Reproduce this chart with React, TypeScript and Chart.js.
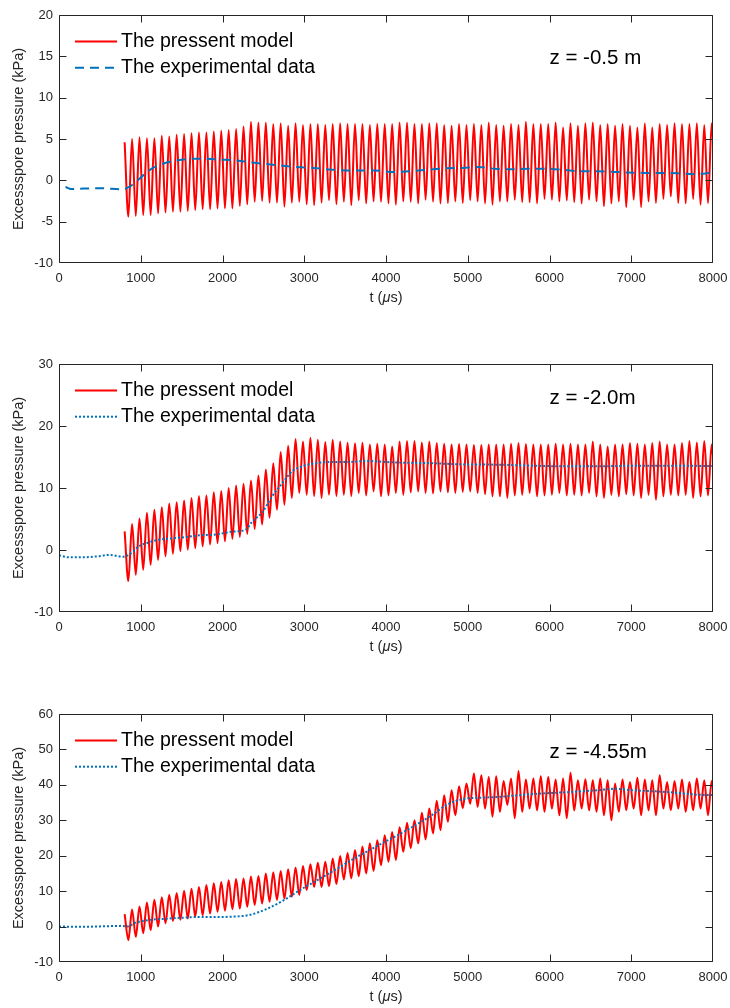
import { useEffect, useRef } from "react";
import { Chart, registerables } from "chart.js";

Chart.register(...registerables);

const FONT = "'Liberation Sans', Arial, Helvetica, sans-serif";
const AXIS_COLOR = "#262626";
const MODEL_COLOR = "#ff0000";
const EXP_COLOR = "#0072bd";

const MODEL_LABEL = "The pressent model";
const EXP_LABEL = "The experimental data";
const Y_TITLE = "Excessspore pressure (kPa)";

// Time axis (µs)
const timeMin = 0;
const timeMax = 8000;
const timeStep = 1000;

// The model output oscillates from its onset; extremes alternate peak / trough
const modelOnset = 803; // µs
const modelHalfPeriod = 45.45; // µs

// ---------- z = -0.5 m ----------
const peaksZ05 = [
  4.6, 5.0, 5.2, 5.1, 5.1, 5.4, 5.3, 5.5, 5.6, 5.7, 5.8, 5.8, 5.9, 6.0, 6.1, 6.2, 6.5, 7.1, 7.0, 7.0,
  6.8, 6.9, 6.6, 6.9, 6.7, 6.8, 6.8, 6.7, 6.8, 6.9, 6.8, 6.8, 6.8,
  6.7, 6.8, 6.8, 6.8, 7.0, 7.0, 6.8, 6.8, 6.9, 6.9, 6.7, 6.6, 6.8, 6.7, 6.8, 6.7, 7.0, 6.7, 6.6, 6.8,
  6.7, 7.1, 6.8, 6.8, 6.8, 7.0, 6.4, 6.9, 6.6, 6.9, 7.0, 6.7, 6.8, 6.6, 6.8, 6.6, 6.4, 6.9, 6.4, 6.8,
  6.7, 6.9, 6.8, 6.8, 6.9, 6.7, 6.9,
];
const troughsZ05 = [
  -4.4, -4.3, -4.2, -4.2, -4.0, -3.9, -3.8, -3.8, -3.7, -3.6, -3.5, -3.5, -3.4, -3.4, -3.4, -3.1, -2.9,
  -2.6, -2.5, -2.7, -2.7, -3.2, -2.7, -2.6, -2.9, -3.0, -2.7, -2.4, -2.9, -2.6, -3.0, -2.4, -2.8,
  -2.55, -2.6, -2.8, -2.95, -2.55, -2.6, -2.8, -2.35, -2.6, -2.8, -2.75, -2.55, -2.75, -2.4, -2.55,
  -2.8, -2.95, -2.55, -2.55, -2.35, -2.65, -2.65, -2.8, -2.25, -2.35, -2.55, -2.45, -2.65, -2.8, -2.35,
  -2.55, -3.15, -2.8, -2.55, -3.25, -2.35, -3.25, -2.55, -2.75, -2.25, -1.95, -2.75, -2.8, -2.25, -2.95,
  -2.75, -2.6,
];
const expTimeZ05 = [
  80, 150, 300, 500, 780, 865, 945, 1030, 1150, 1270, 1435, 1640, 1800, 1965, 2130, 2295, 2500, 2700,
  2905, 3110, 3315, 3515, 3720, 3860, 4110, 4310, 4520, 4720, 4930, 5130, 5330, 5540, 5740, 5940, 6150,
  6350, 6560, 6760, 6960, 7170, 7370, 7570, 7780, 8000,
];
const expValueZ05 = [
  -0.8, -1.05, -1.0, -0.95, -1.1, -0.75, -0.15, 0.6, 1.5, 2.0, 2.4, 2.6, 2.6, 2.5, 2.45, 2.25, 2.0, 1.8,
  1.6, 1.5, 1.3, 1.2, 1.2, 1.2, 1.0, 1.1, 1.3, 1.45, 1.5, 1.6, 1.4, 1.35, 1.4, 1.4, 1.3, 1.1, 1.1, 1.05,
  0.95, 0.9, 0.9, 0.85, 0.75, 0.95,
];

// ---------- z = -2.0 m ----------
const peaksZ20 = [
  3.0, 4.2, 5.1, 6.0, 6.5, 6.9, 7.5, 7.7, 8.0, 8.4, 8.7, 8.8, 9.3, 9.5, 10.0, 10.4, 10.7, 11.2, 12.0,
  13.0, 14.0, 15.8, 16.8, 17.9, 17.5, 18.1, 17.8, 17.4, 17.8, 17.5, 17.3, 17.2, 17.3,
  17.0, 17.15, 17.0, 16.7, 17.5, 17.6, 17.6, 17.35, 17.5, 17.25, 17.15, 17.0, 17.1, 17.0, 16.95, 16.95,
  17.0, 17.0, 17.0, 17.15, 17.25, 17.1, 17.0, 17.0, 17.0, 17.15, 17.0, 17.15, 17.0, 17.0, 17.5, 17.0,
  16.7, 17.0, 17.0, 17.25, 17.15, 17.0, 17.25, 17.5, 17.0, 17.0, 17.25, 17.6, 17.35, 17.6, 17.0,
];
const troughsZ20 = [
  -5.0, -4.0, -3.2, -2.4, -1.6, -1.0, -0.6, -0.2, 0.05, 0.3, 0.6, 0.9, 1.1, 1.4, 1.8, 2.1, 2.6, 3.4, 4.1,
  5.2, 6.5, 7.3, 8.4, 9.2, 8.9, 8.7, 8.4, 8.9, 8.7, 8.9, 8.7, 9.2, 8.8,
  9.45, 8.65, 8.8, 9.2, 8.9, 9.3, 9.45, 9.2, 9.1, 9.45, 9.3, 9.2, 9.35, 9.45, 9.2, 9.0, 8.65, 8.65, 8.4,
  8.8, 8.9, 9.2, 8.65, 8.8, 8.9, 9.2, 8.8, 8.9, 8.8, 9.2, 8.65, 8.4, 8.9, 8.65, 9.0, 8.8, 8.4, 8.9, 8.1,
  8.65, 8.9, 8.8, 8.9, 8.4, 8.65, 8.8, 8.1,
];
const expTimeZ20 = [
  0, 122, 286, 490, 612, 775, 857, 979, 1101, 1223, 1386, 1549, 1712, 1916, 2120, 2283, 2365, 2487,
  2610, 2732, 2854, 2977, 3140, 3344, 3548, 3740, 4150, 4560, 4970, 5380, 5790, 6190, 6600, 7010, 7420,
  8000,
];
const expValueZ20 = [
  -0.86, -1.18, -1.18, -1.0, -0.8, -1.07, -0.75, 0.6, 1.24, 1.67, 1.88, 2.1, 2.37, 2.5, 2.96, 3.28, 4.6,
  6.1, 8.7, 10.8, 12.7, 13.5, 14.0, 14.2, 14.2, 14.35, 14.1, 14.0, 13.8, 13.76, 13.6, 13.5, 13.5, 13.6,
  13.6, 13.55,
];

// ---------- z = -4.55 m ----------
const peaksZ455 = [
  3.5, 4.8, 5.7, 6.8, 7.6, 8.3, 9.0, 9.5, 10.1, 10.7, 11.2, 11.7, 12.2, 12.6, 13.1, 13.4, 13.6, 14.1,
  14.3, 15.0, 15.3, 15.7, 16.2, 16.7,
  17.1, 17.6, 18.0, 18.3, 19.2, 19.9, 20.8, 21.6, 22.6, 23.5, 24.4, 25.8, 26.7, 28.0, 29.3, 30.0, 32.1,
  33.3, 35.5, 37.1,
  38.5, 39.6, 40.4, 43.2, 42.7, 42.2, 42.4, 41.1, 41.8, 43.9, 41.5, 41.8, 42.4, 42.2, 41.5, 41.8, 43.4,
  41.3,
  41.6, 41.3, 41.8, 41.3, 40.4, 41.5, 40.8, 42.0, 41.5, 41.3, 42.7, 40.8, 41.1, 41.5, 40.8, 41.8, 41.3,
  41.1,
];
const troughsZ455 = [
  -3.8, -2.9, -1.9, -1.0, 0.0, 0.9, 1.6, 1.9, 2.3, 2.8, 3.2, 3.7, 4.2, 4.5, 4.9, 5.1, 5.6, 6.1, 6.5, 7.0,
  7.5, 7.9, 8.4,
  8.9, 10.3, 11.2, 11.2, 11.4, 12.0, 13.3, 13.6, 14.2, 15.0, 15.7, 17.3, 18.3, 18.8, 21.1, 22.1, 23.5,
  24.6, 26.3,
  27.2, 29.6, 31.4, 33.4, 34.7, 33.8, 33.3, 31.0, 32.4, 34.3, 30.6, 32.4, 33.3, 32.8, 32.4, 33.3, 31.4,
  30.6, 32.8,
  33.3, 32.8, 32.4, 31.4, 30.0, 32.4, 32.8, 33.3, 31.4, 32.8, 31.4, 33.3, 32.8, 33.3, 32.4, 32.8, 33.3,
  31.4, 31.0,
];
const expTimeZ455 = [
  0, 300, 500, 775, 836, 938, 1101, 1305, 1508, 1712, 1916, 2120, 2324, 2528, 2732, 2940, 3150, 3350,
  3550, 3760, 3960, 4160, 4360, 4570, 4760, 4970, 5175, 5380, 5585, 5790, 6190, 6600, 6800, 7010, 7420,
  7830, 8000,
];
const expValueZ455 = [
  0, -0.05, 0.05, 0.2, 0.0, 1.1, 1.85, 2.2, 2.5, 2.7, 2.7, 2.8, 3.25, 4.85, 7.2, 10.2, 13.0, 15.6, 18.4,
  21.1, 23.6, 26.0, 28.6, 31.6, 34.6, 36.1, 36.4, 36.6, 37.0, 37.4, 37.9, 38.5, 38.9, 38.5, 38.0, 37.2,
  37.1,
];

type PanelSpec = {
  depthLabel: string;
  labelTime: number;
  labelValue: number;
  yMin: number;
  yMax: number;
  yStep: number;
  peaks: number[];
  troughs: number[];
  expTime: number[];
  expValue: number[];
  expDash: number[];
};

const panels: PanelSpec[] = [
  {
    depthLabel: "z = -0.5 m",
    labelTime: 6000,
    labelValue: 14.7,
    yMin: -10,
    yMax: 20,
    yStep: 5,
    peaks: peaksZ05,
    troughs: troughsZ05,
    expTime: expTimeZ05,
    expValue: expValueZ05,
    expDash: [9, 6],
  },
  {
    depthLabel: "z = -2.0m",
    labelTime: 6000,
    labelValue: 24.5,
    yMin: -10,
    yMax: 30,
    yStep: 10,
    peaks: peaksZ20,
    troughs: troughsZ20,
    expTime: expTimeZ20,
    expValue: expValueZ20,
    expDash: [2, 2],
  },
  {
    depthLabel: "z = -4.55m",
    labelTime: 6000,
    labelValue: 49.3,
    yMin: -10,
    yMax: 60,
    yStep: 10,
    peaks: peaksZ455,
    troughs: troughsZ455,
    expTime: expTimeZ455,
    expValue: expValueZ455,
    expDash: [2, 2],
  },
];

const PANEL_TOPS = [0, 349, 699];
const CANVAS_W = 730;
const CANVAS_H = 309;
const PLOT_TOP = 15;
const PLOT_H = 248;
const PLOT_LEFT = 59;
const PLOT_RIGHT_GAP = 17;

function modelPoints(peaks: number[], troughs: number[]) {
  const pts: { x: number; y: number }[] = [];
  const n = Math.max(peaks.length, troughs.length);
  for (let k = 0; k < n; k++) {
    if (k < peaks.length) pts.push({ x: modelOnset + 2 * k * modelHalfPeriod, y: peaks[k] });
    if (k < troughs.length) pts.push({ x: modelOnset + (2 * k + 1) * modelHalfPeriod, y: troughs[k] });
  }
  return pts;
}

function decorations(spec: PanelSpec) {
  return {
    id: "panelDecor",
    afterDraw(chart: any) {
      const { ctx, chartArea: a } = chart;
      const xs = chart.scales.x;
      const ys = chart.scales.y;
      const L = Math.floor(a.left) + 0.5;
      const R = Math.ceil(a.right) - 0.5;
      const T = Math.floor(a.top) + 0.5;
      const B = Math.ceil(a.bottom) - 0.5;
      const tick = 7;
      const clamp = (v: number, lo: number, hi: number) => Math.min(hi, Math.max(lo, v));

      ctx.save();
      // frame and inward ticks on all four sides
      ctx.strokeStyle = AXIS_COLOR;
      ctx.lineWidth = 1;
      ctx.setLineDash([]);
      ctx.beginPath();
      ctx.rect(L, T, R - L, B - T);
      for (const t of xs.ticks) {
        const px = clamp(Math.round(xs.getPixelForValue(t.value)) + 0.5, L, R);
        ctx.moveTo(px, B);
        ctx.lineTo(px, B - tick);
        ctx.moveTo(px, T);
        ctx.lineTo(px, T + tick);
      }
      for (const t of ys.ticks) {
        const py = clamp(Math.round(ys.getPixelForValue(t.value)) + 0.5, T, B);
        ctx.moveTo(L, py);
        ctx.lineTo(L + tick, py);
        ctx.moveTo(R, py);
        ctx.lineTo(R - tick, py);
      }
      ctx.stroke();

      // legend inside the upper-left corner
      chart.data.datasets.forEach((ds: any, i: number) => {
        const y = a.top + 26.5 + i * 26.2;
        ctx.strokeStyle = ds.borderColor;
        ctx.lineWidth = ds.borderWidth;
        ctx.setLineDash(ds.borderDash || []);
        ctx.beginPath();
        ctx.moveTo(75, y);
        ctx.lineTo(117, y);
        ctx.stroke();
        ctx.setLineDash([]);
        ctx.fillStyle = "#000";
        ctx.font = `19.5px ${FONT}`;
        ctx.textAlign = "left";
        ctx.textBaseline = "middle";
        ctx.fillText(ds.label, 121, y);
      });

      // depth annotation
      ctx.fillStyle = "#000";
      ctx.font = `20.5px ${FONT}`;
      ctx.textAlign = "left";
      ctx.textBaseline = "middle";
      ctx.fillText(spec.depthLabel, xs.getPixelForValue(spec.labelTime), ys.getPixelForValue(spec.labelValue));

      // y axis title
      ctx.fillStyle = AXIS_COLOR;
      ctx.font = `14.5px ${FONT}`;
      ctx.save();
      ctx.translate(19, (a.top + a.bottom) / 2);
      ctx.rotate(-Math.PI / 2);
      ctx.textAlign = "center";
      ctx.textBaseline = "middle";
      ctx.fillText(Y_TITLE, 0, 0);
      ctx.restore();

      // x axis title: t (μs) with an italic μ
      const upright = `14.5px ${FONT}`;
      const slanted = `italic 14.5px ${FONT}`;
      const parts: [string, string][] = [
        ["t (", upright],
        ["\u03bc", slanted],
        ["s)", upright],
      ];
      let total = 0;
      for (const [s, f] of parts) {
        ctx.font = f;
        total += ctx.measureText(s).width;
      }
      let x = (a.left + a.right) / 2 - total / 2;
      const yT = a.bottom + 35;
      ctx.textAlign = "left";
      ctx.textBaseline = "middle";
      for (const [s, f] of parts) {
        ctx.font = f;
        ctx.fillText(s, x, yT);
        x += ctx.measureText(s).width;
      }
      ctx.restore();
    },
  };
}

function PanelChart({ spec, top }: { spec: PanelSpec; top: number }) {
  const ref = useRef<HTMLCanvasElement>(null);

  useEffect(() => {
    if (!ref.current) return;
    const chart = new Chart(ref.current, {
      type: "line",
      data: {
        datasets: [
          {
            label: MODEL_LABEL,
            data: modelPoints(spec.peaks, spec.troughs),
            borderColor: MODEL_COLOR,
            borderWidth: 2,
            pointRadius: 0,
            cubicInterpolationMode: "monotone",
            fill: false,
            order: 1,
            clip: 0,
          } as any,
          {
            label: EXP_LABEL,
            data: spec.expTime.map((t, i) => ({ x: t, y: spec.expValue[i] })),
            borderColor: EXP_COLOR,
            borderWidth: 2,
            borderDash: spec.expDash,
            pointRadius: 0,
            cubicInterpolationMode: "monotone",
            fill: false,
            order: 0,
            clip: 0,
          } as any,
        ],
      },
      options: {
        responsive: false,
        animation: false,
        devicePixelRatio: 1,
        events: [],
        layout: { padding: { top: PLOT_TOP, right: PLOT_RIGHT_GAP, left: 0, bottom: 0 } },
        plugins: {
          legend: { display: false },
          tooltip: { enabled: false },
          title: { display: false },
        },
        scales: {
          x: {
            type: "linear",
            min: timeMin,
            max: timeMax,
            grid: { display: false, drawTicks: false },
            border: { display: false },
            ticks: {
              stepSize: timeStep,
              padding: 8,
              color: AXIS_COLOR,
              font: { family: FONT, size: 13 },
              maxRotation: 0,
              autoSkip: false,
              callback: (v: any) => String(v),
            },
            afterFit: (s: any) => {
              s.height = CANVAS_H - PLOT_TOP - PLOT_H;
              s.paddingLeft = 0;
              s.paddingRight = 0;
            },
          },
          y: {
            type: "linear",
            min: spec.yMin,
            max: spec.yMax,
            grid: { display: false, drawTicks: false },
            border: { display: false },
            ticks: {
              stepSize: spec.yStep,
              padding: 6,
              color: AXIS_COLOR,
              font: { family: FONT, size: 13 },
              callback: (v: any) => String(v),
            },
            afterFit: (s: any) => {
              s.width = PLOT_LEFT;
              s.paddingTop = 0;
              s.paddingBottom = 0;
            },
          },
        },
      },
      plugins: [decorations(spec)],
    } as any);
    return () => chart.destroy();
  }, [spec]);

  return (
    <canvas
      ref={ref}
      width={CANVAS_W}
      height={CANVAS_H}
      style={{ position: "absolute", left: 0, top, width: CANVAS_W, height: CANVAS_H }}
    />
  );
}

export default function App() {
  return (
    <div
      style={{
        position: "absolute",
        left: 0,
        top: 0,
        width: CANVAS_W,
        height: 1008,
        background: "#fff",
        overflow: "hidden",
      }}
    >
      {panels.map((p, i) => (
        <PanelChart key={p.depthLabel} spec={p} top={PANEL_TOPS[i]} />
      ))}
    </div>
  );
}
